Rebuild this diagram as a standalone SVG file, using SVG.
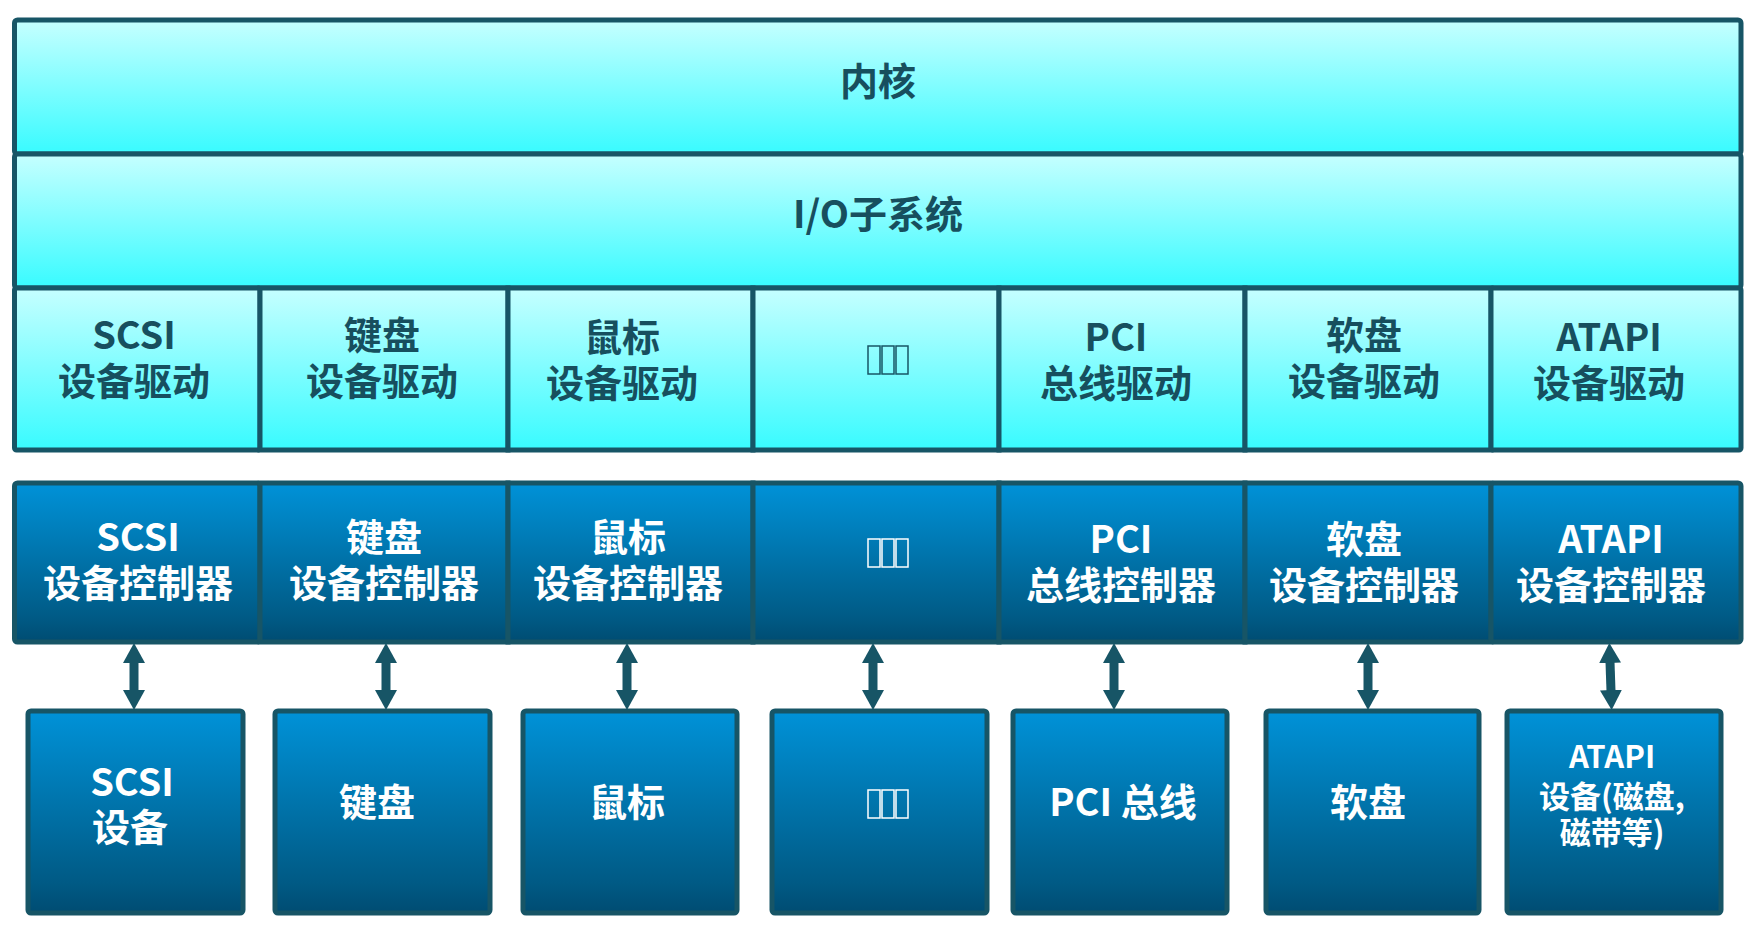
<svg xmlns="http://www.w3.org/2000/svg" width="1750" height="930" viewBox="0 0 1750 930">
  <defs>
    <linearGradient id="cyanFill" x1="0" y1="0" x2="0" y2="1">
      <stop offset="0" stop-color="#c6ffff"/>
      <stop offset="1" stop-color="#38fbff"/>
    </linearGradient>
    <linearGradient id="blueFill" x1="0" y1="0" x2="0" y2="1">
      <stop offset="0" stop-color="#0092d8"/>
      <stop offset="0.85" stop-color="#005a85"/>
      <stop offset="1" stop-color="#004c72"/>
    </linearGradient>
    <marker id="head" markerUnits="userSpaceOnUse" markerWidth="20" markerHeight="22" viewBox="0 0 20 22" refX="1" refY="11" orient="auto-start-reverse">
      <path d="M0,0 L20,11 L0,22 z" fill="#175566"/>
    </marker>
  </defs>
  <style>
    .cy { fill: url(#cyanFill); stroke: #175566; stroke-width: 5; }
    .bl { fill: url(#blueFill); stroke: #175566; stroke-width: 5; }
    text { font-family: "Noto Sans CJK SC", "Liberation Sans", sans-serif; font-weight: bold; text-anchor: middle; }
    .dk { fill: #174f5e; font-size: 38px; }
    .wt { fill: #ffffff; font-size: 38px; }
    .sm { fill: #ffffff; font-size: 31px; }
    .tofuD rect { fill: none; stroke: #175566; stroke-width: 1.5; }
    .tofuW rect { fill: none; stroke: #ffffff; stroke-width: 1.5; }
    .conn line { stroke: #175566; stroke-width: 9; }
  </style>

  <!-- kernel layer -->
  <g id="kernel">
    <rect class="cy" x="14.5" y="20" width="1726.5" height="134" rx="3"/>
    <text class="dk" x="878" y="95">内核</text>
  </g>

  <!-- I/O subsystem -->
  <g id="io-subsystem">
    <rect class="cy" x="14.5" y="154" width="1726.5" height="134" rx="3"/>
    <text class="dk" x="878" y="228">I/O子系统</text>
  </g>

  <!-- device drivers -->
  <g id="drv-scsi">
    <rect class="cy" x="14.5" y="288" width="245.5" height="162" rx="2"/>
    <text class="dk" x="134" y="349">SCSI<tspan x="134" dy="46">设备驱动</tspan></text>
  </g>
  <g id="drv-keyboard">
    <rect class="cy" x="260" y="288" width="248" height="162"/>
    <text class="dk" x="382" y="349">键盘<tspan x="382" dy="46">设备驱动</tspan></text>
  </g>
  <g id="drv-mouse">
    <rect class="cy" x="508" y="288" width="245" height="162"/>
    <text class="dk" x="622" y="351">鼠标<tspan x="622" dy="46">设备驱动</tspan></text>
  </g>
  <g id="drv-other">
    <rect class="cy" x="753" y="288" width="246" height="162"/>
    <g class="tofuD">
      <rect x="868" y="346" width="12" height="28"/>
      <rect x="882" y="346" width="12" height="28"/>
      <rect x="896" y="346" width="12" height="28"/>
    </g>
  </g>
  <g id="drv-pci">
    <rect class="cy" x="999" y="288" width="246" height="162"/>
    <text class="dk" x="1116" y="351">PCI<tspan x="1116" dy="46">总线驱动</tspan></text>
  </g>
  <g id="drv-floppy">
    <rect class="cy" x="1245" y="288" width="246" height="162"/>
    <text class="dk" x="1364" y="349">软盘<tspan x="1364" dy="46">设备驱动</tspan></text>
  </g>
  <g id="drv-atapi">
    <rect class="cy" x="1491" y="288" width="250" height="162" rx="2"/>
    <text class="dk" x="1609" y="351">ATAPI<tspan x="1609" dy="46">设备驱动</tspan></text>
  </g>

  <!-- device controllers -->
  <g id="ctl-scsi">
    <rect class="bl" x="14.5" y="483" width="245.5" height="159" rx="3"/>
    <text class="wt" x="138" y="551">SCSI<tspan x="138" dy="46">设备控制器</tspan></text>
  </g>
  <g id="ctl-keyboard">
    <rect class="bl" x="260" y="483" width="248" height="159"/>
    <text class="wt" x="384" y="551">键盘<tspan x="384" dy="46">设备控制器</tspan></text>
  </g>
  <g id="ctl-mouse">
    <rect class="bl" x="508" y="483" width="245" height="159"/>
    <text class="wt" x="628" y="551">鼠标<tspan x="628" dy="46">设备控制器</tspan></text>
  </g>
  <g id="ctl-other">
    <rect class="bl" x="753" y="483" width="246" height="159"/>
    <g class="tofuW">
      <rect x="868" y="539" width="12" height="28"/>
      <rect x="882" y="539" width="12" height="28"/>
      <rect x="896" y="539" width="12" height="28"/>
    </g>
  </g>
  <g id="ctl-pci">
    <rect class="bl" x="999" y="483" width="246" height="159"/>
    <text class="wt" x="1121" y="553">PCI<tspan x="1121" dy="46">总线控制器</tspan></text>
  </g>
  <g id="ctl-floppy">
    <rect class="bl" x="1245" y="483" width="246" height="159"/>
    <text class="wt" x="1364" y="553">软盘<tspan x="1364" dy="46">设备控制器</tspan></text>
  </g>
  <g id="ctl-atapi">
    <rect class="bl" x="1491" y="483" width="250" height="159" rx="3"/>
    <text class="wt" x="1611" y="553">ATAPI<tspan x="1611" dy="46">设备控制器</tspan></text>
  </g>

  <!-- controller / device links -->
  <g id="connectors" class="conn">
    <line x1="134" y1="662" x2="134" y2="691" marker-start="url(#head)" marker-end="url(#head)"/>
    <line x1="386" y1="662" x2="386" y2="691" marker-start="url(#head)" marker-end="url(#head)"/>
    <line x1="627" y1="662" x2="627" y2="691" marker-start="url(#head)" marker-end="url(#head)"/>
    <line x1="873" y1="662" x2="873" y2="691" marker-start="url(#head)" marker-end="url(#head)"/>
    <line x1="1114" y1="662" x2="1114" y2="691" marker-start="url(#head)" marker-end="url(#head)"/>
    <line x1="1368" y1="662" x2="1368" y2="691" marker-start="url(#head)" marker-end="url(#head)"/>
    <line x1="1610" y1="662" x2="1611" y2="691" marker-start="url(#head)" marker-end="url(#head)"/>
  </g>

  <!-- devices -->
  <g id="dev-scsi">
    <rect class="bl" x="28" y="711" width="215" height="202" rx="3"/>
    <text class="wt" x="132" y="796">SCSI<tspan x="130" dy="45">设备</tspan></text>
  </g>
  <g id="dev-keyboard">
    <rect class="bl" x="275" y="711" width="215" height="202" rx="3"/>
    <text class="wt" x="377" y="816">键盘</text>
  </g>
  <g id="dev-mouse">
    <rect class="bl" x="523" y="711" width="214" height="202" rx="3"/>
    <text class="wt" x="627" y="816">鼠标</text>
  </g>
  <g id="dev-other">
    <rect class="bl" x="772" y="711" width="215" height="202" rx="3"/>
    <g class="tofuW">
      <rect x="868" y="790" width="12" height="28"/>
      <rect x="882" y="790" width="12" height="28"/>
      <rect x="896" y="790" width="12" height="28"/>
    </g>
  </g>
  <g id="dev-pci">
    <rect class="bl" x="1013" y="711" width="214" height="202" rx="3"/>
    <text class="wt" x="1123" y="816">PCI 总线</text>
  </g>
  <g id="dev-floppy">
    <rect class="bl" x="1266" y="711" width="213" height="202" rx="3"/>
    <text class="wt" x="1368" y="816">软盘</text>
  </g>
  <g id="dev-atapi">
    <rect class="bl" x="1507" y="711" width="214" height="202" rx="3"/>
    <text class="sm" x="1612" y="768">ATAPI<tspan x="1612" dy="40">设备(磁盘,</tspan><tspan x="1612" dy="36">磁带等)</tspan></text>
  </g>
</svg>
